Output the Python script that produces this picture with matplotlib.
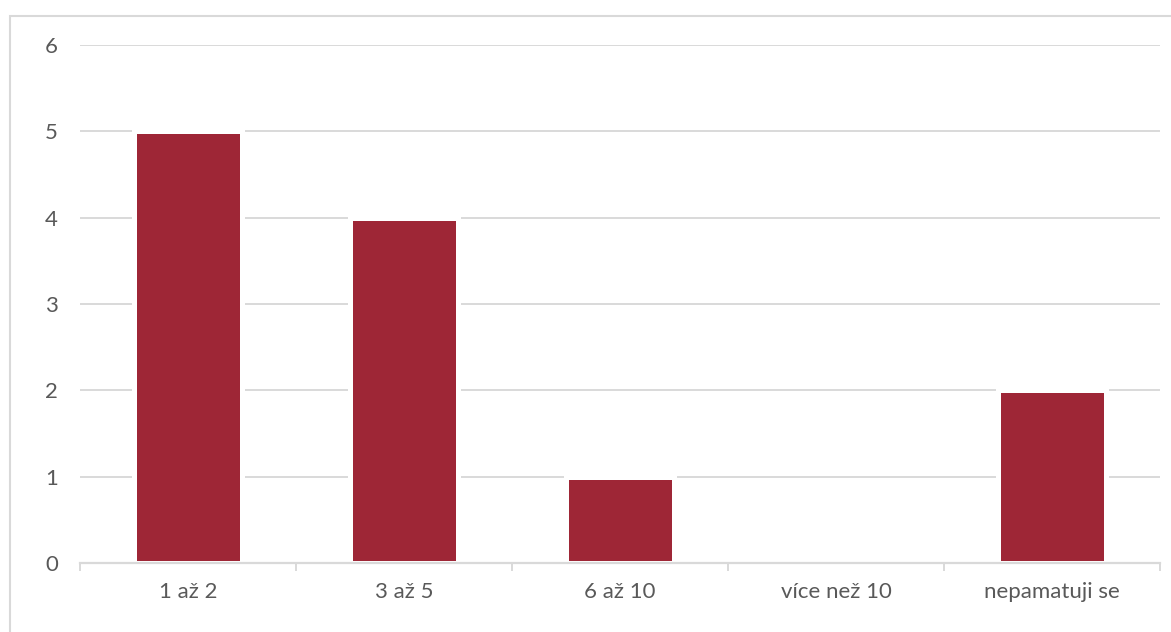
import matplotlib
matplotlib.use("Agg")
import matplotlib.pyplot as plt
from matplotlib.patches import Rectangle
import numpy as np

categories = ["1 až 2", "3 až 5", "6 až 10", "více než 10", "nepamatuji se"]
values = [5, 4, 1, 0, 2]
y_ticks = [0, 1, 2, 3, 4, 5, 6]

BAR_COLOR = "#9E2636"
GRID_COLOR = "#D9D9D9"
TEXT_COLOR = "#595959"

plt.rcParams["font.family"] = ["Lato", "DejaVu Sans"]

W, H = 1171, 632
fig = plt.figure(figsize=(W / 100, H / 100), dpi=100)

# light frame around the chart area
fig.patches.append(Rectangle((10 / W, -0.1), 1.2, 1.1 - 16 / H,
                             transform=fig.transFigure, fill=False,
                             edgecolor=GRID_COLOR, linewidth=1.5, zorder=0))

ax = fig.add_axes([80 / W, 1 - 563 / H, 1080 / W, (563 - 45) / H])
x = np.arange(len(categories))
ax.bar(x, values, width=0.5, color=BAR_COLOR, edgecolor="white",
       linewidth=3.6, zorder=2)

ax.set_xlim(-0.5, len(categories) - 0.5)
ax.set_ylim(0, 6)
ax.set_yticks(y_ticks)
ax.set_yticklabels([str(v) for v in y_ticks])
ax.yaxis.grid(True, color=GRID_COLOR, linewidth=1.4)
ax.set_axisbelow(True)

ax.set_xticks(x)
ax.set_xticklabels(categories)
ax.set_xticks(np.arange(len(categories) + 1) - 0.5, minor=True)
ax.tick_params(axis="x", which="major", length=0, pad=14,
               labelsize=16, labelcolor=TEXT_COLOR)
ax.tick_params(axis="x", which="minor", length=6, width=1.4,
               color=GRID_COLOR)
ax.tick_params(axis="y", length=0, pad=16, labelsize=16,
               labelcolor=TEXT_COLOR)

for side in ["top", "right", "left"]:
    ax.spines[side].set_visible(False)
ax.spines["bottom"].set_color(GRID_COLOR)
ax.spines["bottom"].set_linewidth(1.6)
ax.spines["bottom"].set_zorder(3)

fig.savefig("out.png", dpi=100)
